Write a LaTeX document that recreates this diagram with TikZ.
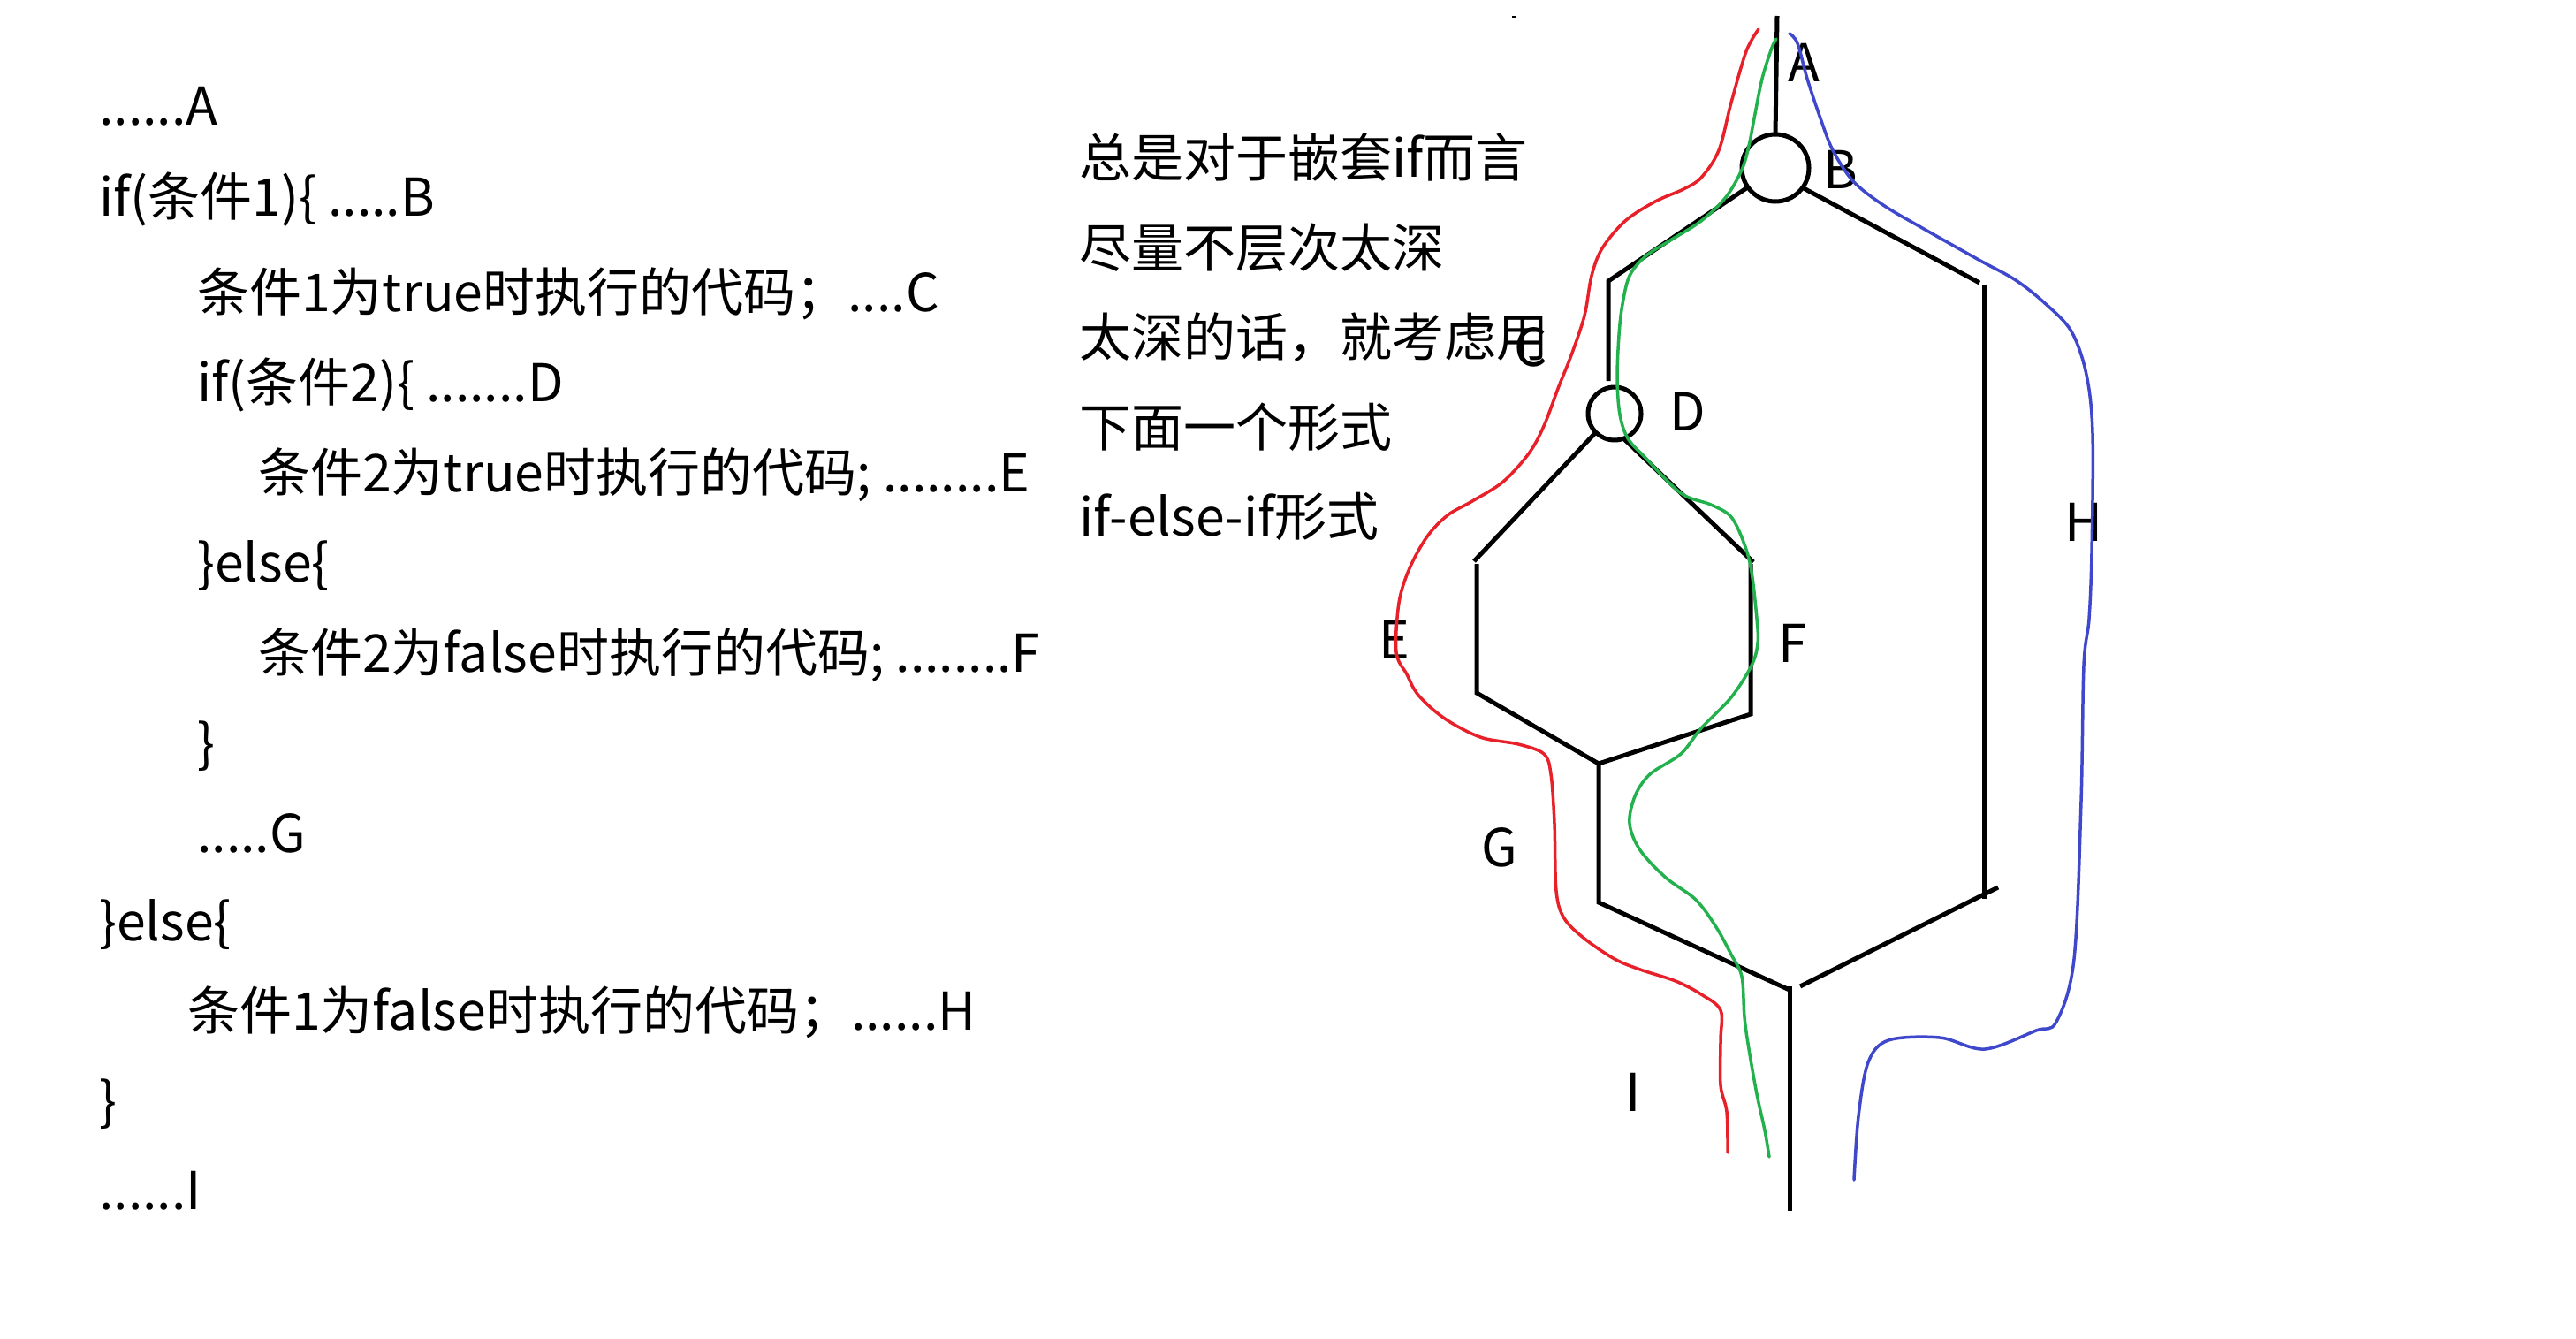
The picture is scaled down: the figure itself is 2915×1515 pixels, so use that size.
\documentclass[tikz,border=0pt]{standalone}
\usepackage{fontspec}
\setmainfont{Noto Sans CJK SC}
\definecolor{pred}{HTML}{E8202A}
\definecolor{pgreen}{HTML}{22B14C}
\definecolor{pblue}{HTML}{3F48CC}
\begin{document}
\begin{tikzpicture}[x=1pt,y=-1pt,
  txt/.style={anchor=base west,inner sep=0,font=\fontsize{59}{70}\selectfont},
  lbl/.style={anchor=base,inner sep=0,font=\fontsize{59}{70}\selectfont},
  flow/.style={line width=5pt,black},
  junc/.style={circle,draw,line width=5pt,inner sep=0,outer sep=0},
  path/.style={line width=3.5pt,line join=round,line cap=round}]
\useasboundingbox (0,0) rectangle (2915,1515);
\fill[white] (0,0) rectangle (2915,1515);

% code text
\node[txt] (t1)  at (112,141)  {......A};
\node[txt] (t2)  at (112,244)  {if(条件1)\{ .....B};
\node[txt] (t3)  at (223,352)  {条件1为true时执行的代码；....C};
\node[txt] (t4)  at (223,454)  {if(条件2)\{ .......D};
\node[txt] (t5)  at (292,556)  {条件2为true时执行的代码; ........E};
\node[txt] (t6)  at (223,658)  {\}else\{};
\node[txt] (t7)  at (292,760)  {条件2为false时执行的代码; ........F};
\node[txt] (t8)  at (223,862)  {\}};
\node[txt] (t9)  at (223,964)  {.....G};
\node[txt] (t10) at (112,1064) {\}else\{};
\node[txt] (t11) at (212,1165) {条件1为false时执行的代码；......H};
\node[txt] (t12) at (112,1267) {\}};
\node[txt] (t13) at (112,1368) {......I};

% note text
\node[txt] (n1) at (1221,200) {总是对于嵌套if而言};
\node[txt] (n2) at (1221,302) {尽量不层次太深};
\node[txt] (n3) at (1221,403) {太深的话，就考虑用};
\node[txt] (n4) at (1221,505) {下面一个形式};
\node[txt] (n5) at (1221,606) {if-else-if形式};

% speck
\draw[line width=2pt] (1711,19) -- (1715,19);

% flow structure
\node[junc,minimum size=76pt] (B) at (2009,190) {};
\node[junc,minimum size=60pt] (D) at (1827,468) {};
\coordinate (top) at (2011,18);
\coordinate (c1) at (1820,318);
\coordinate (c2) at (1820,431);
\coordinate (h1) at (2240,320);
\coordinate (h2) at (2245,322);
\coordinate (h3) at (2245,1017);
\coordinate (e1) at (1668,635);
\coordinate (e2) at (1671,784);
\coordinate (f1) at (1984,636);
\coordinate (f2) at (1981,808);
\coordinate (g1) at (1809,864);
\coordinate (g2) at (1809,1021);
\coordinate (m1) at (2025,1120);
\coordinate (m2) at (2025,1370);
\coordinate (r1) at (2037,1116);
\coordinate (r2) at (2261,1004);

\draw[flow] (top) -- (B.north);
\draw[flow] (B.215) -- (c1) -- (c2);
\draw[flow] (B.324) -- (h1);
\draw[flow] (h2) -- (h3);
\draw[flow] (D.225) -- (e1);
\draw[flow] (1671,638) -- (e2) -- (g1) -- (f2) -- (1981,638);
\draw[flow] (D.290) -- (f1);
\draw[flow] (g1) -- (g2) -- (m1);
\draw[flow] (2025,1116) -- (m2);
\draw[flow] (r1) -- (r2);

% labels
\node[lbl] (lA) at (2041,92)  {A};
\node[lbl] (lB) at (2083,213) {B};
\node[lbl] (lC) at (1732,414) {C};
\node[lbl] (lD) at (1910,487) {D};
\node[lbl] (lE) at (1578,745) {E};
\node[lbl] (lF) at (2029,749) {F};
\node[lbl] (lG) at (1697,980) {G};
\node[lbl] (lH) at (2358,612) {H};
\node[lbl] (lI) at (1848,1257) {I};

% coloured paths
\draw[path,pred] plot[smooth,tension=0.55] coordinates {
(1990,33) (1976,58) (1959,116) (1945,170) (1925,201) (1905,214) (1873,228)
(1839,250) (1813,281) (1801,312) (1793,357) (1778,402) (1764,437) (1747,482)
(1730,513) (1701,545) (1666,567) (1638,583) (1615,607) (1595,643) (1583,682)
(1580,738) (1592,763) (1603,784) (1623,804) (1646,820) (1678,835) (1718,842)
(1747,853) (1755,876) (1759,932) (1761,1008) (1770,1039) (1793,1062)
(1827,1085) (1856,1097) (1896,1110) (1925,1125) (1947,1143) (1947,1177)
(1947,1228) (1954,1258) (1955,1304)};
\draw[path,pgreen] plot[smooth,tension=0.55] coordinates {
(2010,44) (2005,54) (1994,89) (1985,134) (1979,165) (1971,192) (1953,223)
(1925,250) (1890,272) (1862,290) (1844,312) (1836,344) (1832,379) (1830,429)
(1833,469) (1842,496) (1862,518) (1902,558) (1936,571) (1959,585) (1974,616)
(1982,647) (1988,700) (1989,728) (1982,753) (1959,789) (1925,824) (1902,853)
(1867,876) (1850,901) (1844,932) (1856,962) (1885,993) (1919,1018)
(1942,1049) (1959,1080) (1971,1105) (1974,1151) (1979,1187) (1988,1238)
(1997,1279) (2002,1309)};
\draw[path,pblue] plot[smooth,tension=0.55] coordinates {
(2025,38) (2034,49) (2045,89) (2060,134) (2074,170) (2097,205) (2131,232)
(2177,259) (2241,295) (2281,317) (2315,344) (2344,375) (2361,424) (2368,491)
(2367,625) (2364,700) (2358,753) (2355,906) (2347,1085) (2327,1156)
(2304,1166) (2246,1187) (2195,1174) (2137,1177) (2114,1202) (2103,1263)
(2098,1335)};
\end{tikzpicture}
\end{document}
